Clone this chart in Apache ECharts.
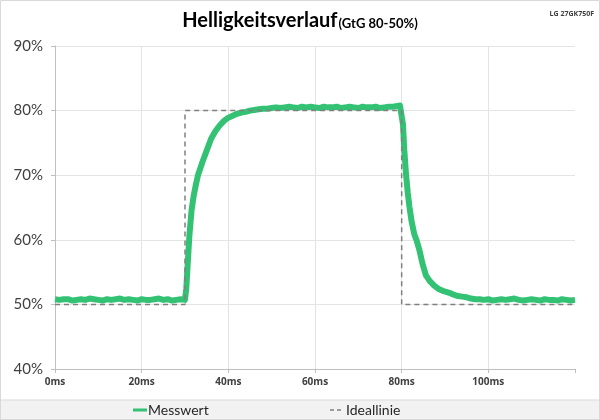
<!DOCTYPE html>
<html><head><meta charset="utf-8">
<script src="https://cdn.jsdelivr.net/npm/echarts@6/dist/echarts.min.js"></script>
<style>html,body{margin:0;padding:0;background:#fff}#c{width:600px;height:420px}</style>
</head><body><div id="c"></div>
<script>
// Messwert (time in ms, luminance in %)
const mTime = [0,1,2,3,4,5,6,7,8,9,10,11,12,13,14,15,16,17,18,19,20,21,22,23,24,25,26,27,28,29,
  30,30.3,30.6,31,31.5,32,32.5,33,34,35,36,37,38,39,40,41,42,43,44,45,46,47,48,49,50,
  51,52,53,54,55,56,57,58,59,60,61,62,63,64,65,66,67,68,69,70,71,72,73,74,75,76,77,78,79,79.6,80,
  80.3,80.6,81,81.4,81.8,82.3,82.9,83.5,84.1,84.8,85.6,86.5,87.5,88.5,89.5,91,92,93,94,95,96,
  97,98,99,100,101,102,103,104,105,106,107,108,109,110,111,112,113,114,115,116,117,118,119,120];
const mValue = [50.8,50.7,50.8,50.8,50.6,50.7,50.8,50.7,50.9,50.8,50.7,50.6,50.8,50.7,50.8,50.9,50.7,50.8,50.7,50.6,50.8,50.7,50.7,50.8,50.9,50.7,50.8,50.6,50.7,50.8,
  50.7,52.5,56.0,60.5,64.5,66.8,68.5,70.0,72.0,73.8,75.6,76.8,77.7,78.4,78.9,79.2,79.5,79.7,79.8,80.0,80.1,80.2,80.3,80.3,80.4,
  80.5,80.4,80.5,80.6,80.5,80.4,80.6,80.5,80.6,80.5,80.4,80.6,80.5,80.5,80.6,80.4,80.5,80.6,80.5,80.4,80.6,80.5,80.5,80.6,80.4,80.5,80.6,80.6,80.7,80.8,80.8,
  77.9,74.0,70.2,67.3,65.1,62.8,60.9,59.8,58.4,56.3,54.5,53.6,52.9,52.4,52.1,51.8,51.5,51.3,51.2,51.1,50.9,
  50.8,50.8,50.7,50.8,50.6,50.7,50.8,50.7,50.8,50.9,50.7,50.6,50.7,50.8,50.7,50.6,50.8,50.7,50.7,50.6,50.8,50.7,50.6,50.7];
// Ideallinie
const iTime = [0,30,30,80,80,120];
const iValue = [50,50,80,80,50,50];
const yTicks = [40,50,60,70,80,90];
const xTicks = [0,20,40,60,80,100];
const legendNames = ['Messwert','Ideallinie'];

const GREEN = '#33c274', GREY = '#7f7f7f';
const zip = (a,b)=>a.map((t,i)=>[t,b[i]]);
const chart = echarts.init(document.getElementById('c'), null, {renderer:'canvas'});
const FONT = '"Open Sans", "Noto Sans", sans-serif';
const TFONT = 'Lato, "Open Sans", sans-serif';
chart.setOption({
  animation:false,
  textStyle:{fontFamily:FONT},
  title:{
    text:'{a|Helligkeitsverlauf}{b|(GtG 80-50%)}',
    left:'center', top:6,
    textStyle:{rich:{
      a:{fontSize:20,fontWeight:'bold',color:'#000',fontFamily:TFONT},
      b:{fontSize:13,fontWeight:'bold',color:'#000',fontFamily:TFONT,padding:[5,0,0,1]}
    }}
  },
  graphic:[
    {type:'rect',shape:{x:0,y:400,width:600,height:20},style:{fill:'#f2f2f2',stroke:'#d9d9d9',lineWidth:1},z:-1},
    {type:'rect',shape:{x:0.5,y:0.5,width:599,height:419},style:{fill:'none',stroke:'#d9d9d9',lineWidth:1},z:-1},
    {type:'text',right:6,top:10,style:{text:'LG 27GK750F',fontSize:7,fontWeight:'bold',fill:'#404040',fontFamily:FONT}},
    {type:'line',shape:{x1:133,y1:410,x2:147,y2:410},style:{stroke:GREEN,lineWidth:3}},
    {type:'text',x:148,y:410,style:{text:legendNames[0],fontSize:14,fill:'#262626',fontFamily:TFONT,verticalAlign:'middle'}},
    {type:'line',shape:{x1:330,y1:410,x2:342,y2:410},style:{stroke:GREY,lineWidth:1.5,lineDash:[4,3]}},
    {type:'text',x:346,y:410,style:{text:legendNames[1],fontSize:14,fill:'#262626',fontFamily:TFONT,verticalAlign:'middle'}}
  ],
  grid:{left:55,right:25,top:46,bottom:51},
  xAxis:{type:'value',min:0,max:120,interval:20,
    axisLine:{show:true,lineStyle:{color:'#bfbfbf'}},
    axisTick:{show:true,length:4,lineStyle:{color:'#bfbfbf'}},
    splitLine:{show:true,lineStyle:{color:['#d9d9d9','#e4e4e4','#e4e4e4','#e4e4e4','#e4e4e4','#e4e4e4','rgba(0,0,0,0)']}},
    axisLabel:{fontSize:10,fontWeight:'bold',color:'#404040',margin:8,
      formatter:v=>xTicks.includes(v)?v+'ms':''}
  },
  yAxis:{type:'value',min:40,max:90,interval:10,
    axisLine:{show:true,lineStyle:{color:'#bfbfbf'}},
    axisTick:{show:true,length:4,lineStyle:{color:'#bfbfbf'}},
    splitLine:{show:true,lineStyle:{color:'#e4e4e4'}},
    axisLabel:{fontSize:15,color:'#404040',margin:12,fontFamily:TFONT,
      formatter:v=>yTicks.includes(v)?v+'%':''}
  },
  series:[
    {name:'Ideallinie',type:'line',data:zip(iTime,iValue),showSymbol:false,symbol:'none',
      lineStyle:{color:GREY,width:1.5,type:[5,4]},itemStyle:{color:GREY},z:3},
    {name:'Messwert',type:'line',data:zip(mTime,mValue),showSymbol:false,symbol:'none',
      lineStyle:{color:GREEN,width:6,join:'round'},itemStyle:{color:GREEN},z:2}
  ]
});
</script></body></html>
